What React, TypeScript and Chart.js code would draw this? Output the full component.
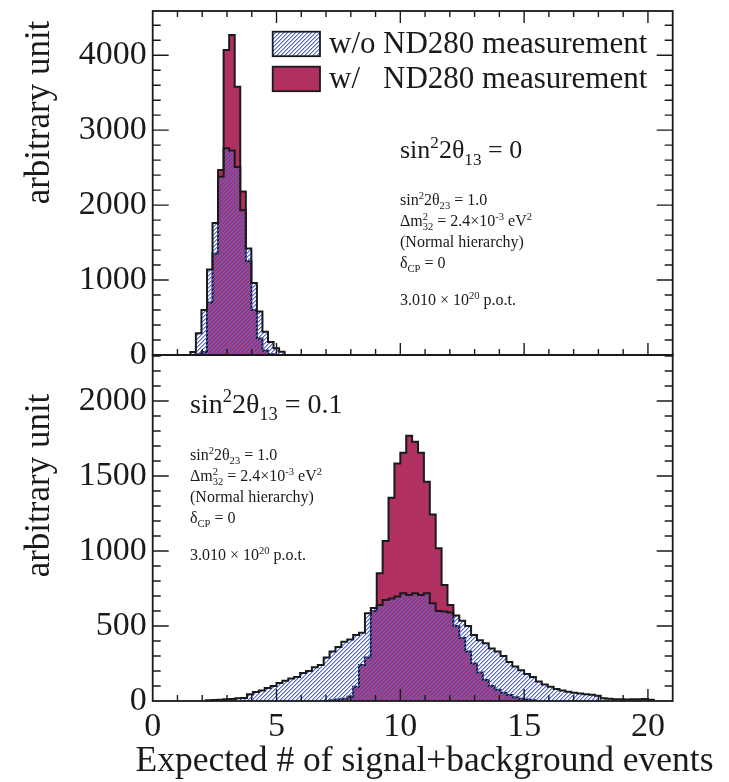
import React, { useEffect, useRef } from "react";
import { Chart, registerables } from "chart.js";

Chart.register(...registerables);

// ---------- data ----------
const xMin = 0;
const xMax = 21;
const xTickValues = [0, 5, 10, 15, 20];

const topYMax = 4590;
const topYTicks = [0, 1000, 2000, 3000, 4000];
const topYMinorStep = 200;

const bottomYMax = 2307;
const bottomYTicks = [0, 500, 1000, 1500, 2000];
const bottomYMinorStep = 100;

// top panel: sin^2 2theta13 = 0
const topBinStart = 1.52;
const topBinWidth = 0.224;
const topWithout = [40, 290, 600, 1140, 1760, 2380, 2760, 2730, 2510, 1930, 1420, 960, 580, 310, 175, 90, 45];
const topWith = [0, 10, 40, 700, 1350, 2470, 4070, 4270, 3580, 2180, 1250, 600, 220, 60, 10, 0, 0];

// bottom panel: sin^2 2theta13 = 0.1
const bottomBinWidth = 10 / 42;
const bottomWithoutFirstBin = 9;
const bottomWithout = [
  5, 7, 8, 12, 13, 18, 20, 45, 60, 70, 87, 100, 120, 135, 150, 160, 187, 200, 225, 240,
  290, 330, 360, 395, 410, 440, 455, 585, 620, 640, 673, 684, 696, 718, 707, 718, 707, 718, 651, 600,
  596, 590, 570, 535, 500, 440, 405, 385, 350, 330, 300, 260, 230, 205, 180, 160, 130, 110, 95, 80,
  70, 62, 55, 50, 45, 42, 35, 18, 15, 12, 12, 10, 12, 12, 13, 8,
];
const bottomWithFirstBin = 30;
const bottomWith = [
  5, 10, 15, 29, 95, 240, 290, 600, 851, 1067, 1356, 1584, 1655, 1769, 1729, 1655, 1462, 1244, 1018, 773,
  640, 500, 420, 330, 250, 190, 140, 100, 75, 55, 40, 25, 15, 10, 5,
];

const legendLabels = ["w/o", "w/"];
const legendText = "ND280 measurement";
const xTitle = "Expected # of signal+background events";
const yTitle = "arbitrary unit";

// ---------- style ----------
const SERIF = "'Liberation Serif', 'Times New Roman', serif";
const INK = "#1a1a1a";
const RED = "#b03062";
const HATCH_BLUE = "rgb(82, 102, 226)";
const HATCH_SOFT = "rgba(82, 102, 226, 0.5)";
const AXIS_LEFT = 152.7;
const AXIS_RIGHT = 672.7;

type Seg = { t: string; s?: "sup" | "sub"; keep?: boolean };

const titleTop: Seg[] = [{ t: "sin" }, { t: "2", s: "sup" }, { t: "2θ" }, { t: "13", s: "sub" }, { t: " = 0" }];
const titleBottom: Seg[] = [{ t: "sin" }, { t: "2", s: "sup" }, { t: "2θ" }, { t: "13", s: "sub" }, { t: " = 0.1" }];
const paramLines: Seg[][] = [
  [{ t: "sin" }, { t: "2", s: "sup" }, { t: "2θ" }, { t: "23", s: "sub" }, { t: " = 1.0" }],
  [{ t: "Δm" }, { t: "2", s: "sup", keep: true }, { t: "32", s: "sub" }, { t: " = 2.4×10" }, { t: "-3", s: "sup" }, { t: " eV" }, { t: "2", s: "sup" }],
  [{ t: "(Normal hierarchy)" }],
  [{ t: "δ" }, { t: "CP", s: "sub" }, { t: " = 0" }],
];
const potLine: Seg[] = [{ t: "3.010 × 10" }, { t: "20", s: "sup" }, { t: " p.o.t." }];

function histPoints(start: number, width: number, values: number[]) {
  const pts: { x: number; y: number }[] = [{ x: start, y: 0 }];
  values.forEach((v, i) => {
    const x0 = start + i * width;
    pts.push({ x: x0, y: v }, { x: x0 + width, y: v });
  });
  pts.push({ x: start + values.length * width, y: 0 });
  return pts;
}

function makeHatch(): CanvasPattern | string {
  const c = document.createElement("canvas");
  const n = 4;
  c.width = n;
  c.height = n;
  const g = c.getContext("2d");
  if (!g) return HATCH_BLUE;
  g.clearRect(0, 0, n, n);
  for (let i = 0; i < n; i++) {
    const y = n - 1 - i;
    g.fillStyle = HATCH_BLUE;
    g.fillRect(i, y, 1, 1);
    g.fillStyle = HATCH_SOFT;
    g.fillRect((i + 1) % n, y, 1, 1);
  }
  const p = g.createPattern(c, "repeat");
  return p || HATCH_BLUE;
}

function drawRich(ctx: CanvasRenderingContext2D, x: number, y: number, segs: Seg[], size: number) {
  let cx = x;
  for (const seg of segs) {
    const fs = seg.s ? size * 0.66 : size;
    ctx.font = `${fs}px ${SERIF}`;
    const dy = seg.s === "sup" ? -size * 0.4 : seg.s === "sub" ? size * 0.25 : 0;
    ctx.fillText(seg.t, cx, y + dy);
    if (!seg.keep) cx += ctx.measureText(seg.t).width;
  }
}

type PanelOpts = {
  yMax: number;
  yMinor: number;
  yMajor: number;
  topTicks: boolean;
  title: Seg[];
  titleSize: number;
  textX: number;
  titleY: number;
  blockY: number;
  yTitleCenter: number;
  legend: boolean;
  xTitleY: number | null;
  hatch: CanvasPattern | string;
};

function framePlugin(o: PanelOpts) {
  return {
    id: "frameAndText",
    afterDraw(chart: any) {
      const ctx: CanvasRenderingContext2D = chart.ctx;
      const { left, right, top, bottom } = chart.chartArea;
      const xs = chart.scales.x;
      const ys = chart.scales.y;
      ctx.save();
      ctx.strokeStyle = INK;
      ctx.lineWidth = 1.8;
      ctx.strokeRect(left, top, right - left, bottom - top);
      ctx.lineWidth = 1.4;
      ctx.beginPath();
      for (let v = xMin + 1; v < xMax; v++) {
        const px = xs.getPixelForValue(v);
        const len = v % 5 === 0 ? 12 : 6;
        ctx.moveTo(px, bottom);
        ctx.lineTo(px, bottom - len);
        if (o.topTicks) {
          ctx.moveTo(px, top);
          ctx.lineTo(px, top + len);
        }
      }
      for (let v = o.yMinor; v < o.yMax; v += o.yMinor) {
        const py = ys.getPixelForValue(v);
        const len = v % o.yMajor === 0 ? 16 : 8;
        ctx.moveTo(left, py);
        ctx.lineTo(left + len, py);
        ctx.moveTo(right, py);
        ctx.lineTo(right - len, py);
      }
      ctx.stroke();

      ctx.fillStyle = INK;
      ctx.textAlign = "left";
      ctx.textBaseline = "alphabetic";
      drawRich(ctx, o.textX, o.titleY, o.title, o.titleSize);
      const offs = [0, 21, 42, 63];
      paramLines.forEach((line, i) => drawRich(ctx, o.textX, o.blockY + offs[i], line, 16));
      drawRich(ctx, o.textX, o.blockY + 100, potLine, 16);

      // y title
      ctx.save();
      ctx.translate(49, o.yTitleCenter);
      ctx.rotate(-Math.PI / 2);
      ctx.textAlign = "center";
      ctx.font = `35px ${SERIF}`;
      ctx.fillText(yTitle, 0, 0);
      ctx.restore();

      if (o.xTitleY !== null) {
        ctx.textAlign = "center";
        ctx.font = `35.5px ${SERIF}`;
        ctx.fillText(xTitle, 424.5, o.xTitleY);
      }

      if (o.legend) {
        ctx.textAlign = "left";
        const boxes = [
          { y: 31.7, fill: o.hatch },
          { y: 66.7, fill: RED },
        ];
        boxes.forEach((b, i) => {
          ctx.fillStyle = "#ffffff";
          ctx.fillRect(272.7, b.y, 47.3, 24.5);
          ctx.fillStyle = b.fill as any;
          ctx.fillRect(272.7, b.y, 47.3, 24.5);
          ctx.strokeStyle = INK;
          ctx.lineWidth = 1.8;
          ctx.strokeRect(272.7, b.y, 47.3, 24.5);
          ctx.fillStyle = INK;
          ctx.font = `31px ${SERIF}`;
          ctx.fillText(legendLabels[i], 329, b.y + 21.5);
          ctx.fillText(legendText, 383, b.y + 21.5);
        });
      }
      ctx.restore();
    },
  };
}

function makeConfig(
  o: PanelOpts,
  without: { x: number; y: number }[],
  withNd: { x: number; y: number }[],
  yTicks: number[],
  padTop: number,
  showX: boolean,
  xHeight: number,
  padBottom: number
): any {
  return {
    type: "line",
    data: {
      datasets: [
        {
          label: "w/o ND280 measurement",
          data: without,
          borderColor: INK,
          borderWidth: 2,
          backgroundColor: o.hatch,
          fill: "origin",
          pointRadius: 0,
          tension: 0,
        },
        {
          label: "w/ ND280 measurement",
          data: withNd,
          borderColor: INK,
          borderWidth: 2,
          backgroundColor: RED,
          fill: "origin",
          pointRadius: 0,
          tension: 0,
        },
      ],
    },
    options: {
      animation: false,
      responsive: false,
      events: [],
      layout: { padding: { left: 0, top: padTop, right: 729 - AXIS_RIGHT, bottom: padBottom } },
      plugins: { legend: { display: false }, tooltip: { enabled: false }, title: { display: false } },
      scales: {
        x: {
          type: "linear",
          display: showX,
          min: xMin,
          max: xMax,
          grid: { display: false, drawTicks: false },
          border: { display: false },
          ticks: {
            font: { family: SERIF, size: 34 },
            color: INK,
            padding: 6,
            maxRotation: 0,
            autoSkip: false,
            callback: (v: number) => String(v),
          },
          afterBuildTicks: (s: any) => {
            s.ticks = xTickValues.map((v) => ({ value: v }));
          },
          afterFit: (s: any) => {
            s.height = xHeight;
            s.paddingLeft = 0;
            s.paddingRight = 0;
          },
        },
        y: {
          type: "linear",
          min: 0,
          max: o.yMax,
          grid: { display: false, drawTicks: false },
          border: { display: false },
          ticks: {
            font: { family: SERIF, size: 34 },
            color: INK,
            padding: 6,
            autoSkip: false,
            callback: (v: number) => String(v),
          },
          afterBuildTicks: (s: any) => {
            s.ticks = yTicks.map((v) => ({ value: v }));
          },
          afterFit: (s: any) => {
            s.width = AXIS_LEFT;
            s.paddingTop = 0;
            s.paddingBottom = 0;
          },
        },
      },
    },
    plugins: [framePlugin(o)],
  };
}

export default function App() {
  const topRef = useRef<HTMLCanvasElement>(null);
  const botRef = useRef<HTMLCanvasElement>(null);

  useEffect(() => {
    const hatch = makeHatch();
    const topOpts: PanelOpts = {
      yMax: topYMax,
      yMinor: topYMinorStep,
      yMajor: 1000,
      topTicks: true,
      title: titleTop,
      titleSize: 26,
      textX: 400,
      titleY: 158,
      blockY: 205,
      yTitleCenter: 112.5,
      legend: true,
      xTitleY: null,
      hatch,
    };
    const botOffset = 340;
    const botOpts: PanelOpts = {
      yMax: bottomYMax,
      yMinor: bottomYMinorStep,
      yMajor: 500,
      topTicks: false,
      title: titleBottom,
      titleSize: 28,
      textX: 190,
      titleY: 413 - botOffset,
      blockY: 460 - botOffset,
      yTitleCenter: 485.5 - botOffset,
      legend: false,
      xTitleY: 771 - botOffset,
      hatch,
    };
    const c1 = new Chart(
      topRef.current as HTMLCanvasElement,
      makeConfig(
        topOpts,
        histPoints(topBinStart, topBinWidth, topWithout),
        histPoints(topBinStart, topBinWidth, topWith),
        topYTicks,
        11,
        false,
        0,
        380 - 355
      )
    );
    const c2 = new Chart(
      botRef.current as HTMLCanvasElement,
      makeConfig(
        botOpts,
        histPoints(bottomWithoutFirstBin * bottomBinWidth, bottomBinWidth, bottomWithout),
        histPoints(bottomWithFirstBin * bottomBinWidth, bottomBinWidth, bottomWith),
        bottomYTicks,
        355 - botOffset,
        true,
        442 - (701 - botOffset),
        0
      )
    );
    return () => {
      c1.destroy();
      c2.destroy();
    };
  }, []);

  return (
    <div style={{ position: "absolute", left: 0, top: 0, width: 729, height: 782, background: "#ffffff" }}>
      <canvas ref={topRef} width={729} height={380} style={{ position: "absolute", left: 0, top: 0, width: 729, height: 380 }} />
      <canvas ref={botRef} width={729} height={442} style={{ position: "absolute", left: 0, top: 340, width: 729, height: 442 }} />
    </div>
  );
}
